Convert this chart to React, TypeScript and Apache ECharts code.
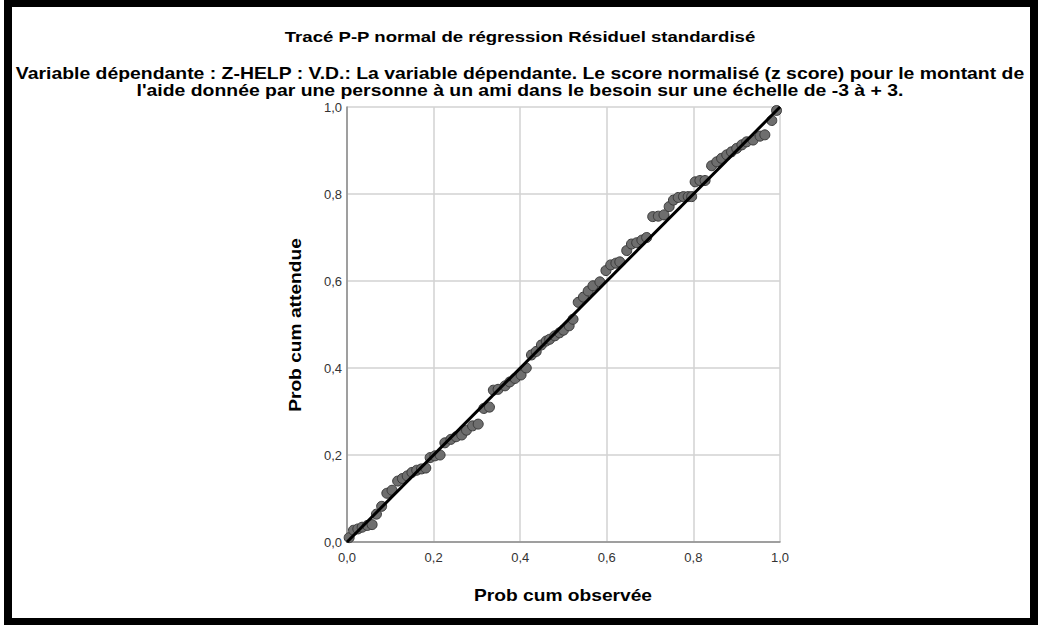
import React, { useEffect, useRef } from "react";
import * as echarts from "echarts";

const titleText = "Tracé P-P normal de régression Résiduel standardisé";
const subtitleLines = [
  "Variable dépendante : Z-HELP : V.D.: La variable dépendante. Le score normalisé (z score) pour le montant de",
  "l'aide donnée par une personne à un ami dans le besoin sur une échelle de -3 à + 3.",
];
const xAxisName = "Prob cum observée";
const yAxisName = "Prob cum attendue";
const axisMin = 0;
const axisMax = 1;
const axisInterval = 0.2;

const observed = [
  0.005, 0.015, 0.025, 0.035, 0.047, 0.058, 0.068, 0.08, 0.092, 0.104,
  0.117, 0.128, 0.139, 0.15, 0.161, 0.172, 0.182, 0.192, 0.203, 0.215,
  0.226, 0.24, 0.252, 0.265, 0.276, 0.29, 0.303, 0.316, 0.329, 0.338,
  0.349, 0.365, 0.376, 0.388, 0.402, 0.414, 0.426, 0.437, 0.449, 0.46,
  0.468, 0.48, 0.491, 0.5, 0.513, 0.522, 0.534, 0.546, 0.557, 0.568,
  0.584, 0.598, 0.609, 0.621, 0.63, 0.646, 0.657, 0.669, 0.681, 0.692,
  0.706, 0.719, 0.732, 0.744, 0.754, 0.765, 0.777, 0.788, 0.796, 0.804,
  0.815, 0.827, 0.842, 0.854, 0.865, 0.877, 0.888, 0.9, 0.912, 0.923,
  0.938, 0.954, 0.965, 0.981, 0.992,
];
const expected = [
  0.01, 0.027, 0.03, 0.034, 0.038, 0.04, 0.064, 0.082, 0.112, 0.119,
  0.14, 0.146, 0.152, 0.16, 0.165, 0.168, 0.17, 0.194, 0.198, 0.2,
  0.228, 0.236, 0.242, 0.246, 0.257, 0.267, 0.271, 0.307, 0.31, 0.349,
  0.351, 0.359, 0.368, 0.376, 0.384, 0.4, 0.43, 0.438, 0.453, 0.462,
  0.466, 0.474, 0.481, 0.487, 0.497, 0.512, 0.551, 0.563, 0.577, 0.589,
  0.598, 0.624, 0.637, 0.641, 0.644, 0.67, 0.685, 0.688, 0.694, 0.7,
  0.748, 0.749, 0.752, 0.771, 0.786, 0.792, 0.794, 0.794, 0.794, 0.828,
  0.831, 0.831, 0.865, 0.874, 0.882, 0.89, 0.897, 0.905, 0.913, 0.92,
  0.924, 0.933, 0.936, 0.969, 0.992,
];
const referenceX = [0, 1];
const referenceY = [0, 1];

const FONT = "'Liberation Sans', Arial, sans-serif";

function label(text: string, x: number, y: number, size: number, scaleX: number, rotation = 0) {
  return {
    type: "text",
    x,
    y,
    scaleX,
    rotation,
    silent: true,
    style: {
      text,
      fontFamily: FONT,
      fontSize: size,
      fontWeight: "bold",
      fill: "#000",
      textAlign: "center",
      textVerticalAlign: "middle",
    },
  };
}

export default function App() {
  const ref = useRef<HTMLDivElement>(null);
  useEffect(() => {
    document.body.style.margin = "0";
    if (!ref.current) return;
    const chart = echarts.init(ref.current, null, { renderer: "svg" });
    const fmt = (v: number) => v.toFixed(1).replace(".", ",");
    chart.setOption({
      animation: false,
      backgroundColor: "#ffffff",
      textStyle: { fontFamily: FONT },
      grid: { left: 347, top: 107, width: 433, height: 435 },
      xAxis: {
        type: "value",
        min: axisMin,
        max: axisMax,
        interval: axisInterval,
        axisLine: { show: true, lineStyle: { color: "#8a8a8a", width: 1.5 } },
        axisTick: { show: false },
        axisLabel: { formatter: fmt, fontFamily: FONT, fontSize: 13, color: "#333", margin: 9 },
        splitLine: { show: true, lineStyle: { color: "#d2d2d2", width: 1.5 } },
      },
      yAxis: {
        type: "value",
        min: axisMin,
        max: axisMax,
        interval: axisInterval,
        axisLine: { show: true, lineStyle: { color: "#8a8a8a", width: 1.5 } },
        axisTick: { show: false },
        axisLabel: { formatter: fmt, fontFamily: FONT, fontSize: 13, color: "#333", margin: 5 },
        splitLine: { show: true, lineStyle: { color: "#d2d2d2", width: 1.5 } },
      },
      series: [
        {
          type: "scatter",
          data: observed.map((x, i) => [x, expected[i]]),
          symbolSize: 10,
          itemStyle: { color: "#6e6e6e", borderColor: "#3a3a3a", borderWidth: 1, opacity: 1 },
          z: 2,
        },
        {
          type: "line",
          data: referenceX.map((x, i) => [x, referenceY[i]]),
          symbol: "none",
          lineStyle: { color: "#000", width: 3 },
          z: 3,
        },
      ],
      graphic: [
        {
          type: "rect",
          shape: { x: 8, y: 3, width: 1026, height: 619 },
          style: { fill: "none", stroke: "#000", lineWidth: 8 },
          silent: true,
        },
        label(titleText, 520, 37, 15, 1.24),
        label(subtitleLines[0], 520, 74, 16, 1.213),
        label(subtitleLines[1], 520, 91, 16, 1.213),
        label(xAxisName, 563, 596, 16, 1.2),
        label(yAxisName, 296, 325, 16, 1.2, Math.PI / 2),
      ],
    });
    return () => chart.dispose();
  }, []);
  return <div ref={ref} style={{ width: 1040, height: 625 }} />;
}
